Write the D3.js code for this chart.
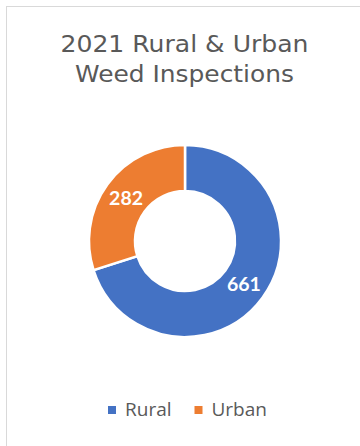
<!DOCTYPE html>
<html><head><meta charset="utf-8">
<script src="https://cdn.jsdelivr.net/npm/d3@7"></script>
<style>html,body{margin:0;padding:0;background:#fff;}svg{display:block;}</style>
</head><body>
<svg id="chart" width="360" height="446"></svg>
<script>
const titleLines = ["2021 Rural & Urban", "Weed Inspections"];
const categories = ["Rural", "Urban"];
const values = [661, 282];
const colors = ["#4472C4", "#ED7D31"];

const svg = d3.select("#chart");
svg.append("rect").attr("x", 6.5).attr("y", 6.5).attr("width", 420).attr("height", 520)
  .attr("fill", "#fff").attr("stroke", "#d9d9d9").attr("stroke-width", 1);

// Title
const titleWidths = [248, 219];
svg.append("g").selectAll("text").data(titleLines).join("text")
  .attr("x", 184.5).attr("y", (d, i) => 51.5 + i * 30)
  .attr("text-anchor", "middle")
  .attr("font-family", "DejaVu Sans, sans-serif")
  .attr("font-size", 23).attr("fill", "#595959")
  .attr("textLength", (d, i) => titleWidths[i]).attr("lengthAdjust", "spacingAndGlyphs")
  .text(d => d);

// Donut
const cx = 185, cy = 241, rOuter = 96, rInner = 50;
const pie = d3.pie().sort(null).startAngle(0).endAngle(2 * Math.PI);
const arcs = pie(values);
const arc = d3.arc().innerRadius(rInner).outerRadius(rOuter);
const labelArc = d3.arc().innerRadius((rInner + rOuter) / 2).outerRadius((rInner + rOuter) / 2);
const g = svg.append("g").attr("transform", `translate(${cx},${cy})`);
g.selectAll("path").data(arcs).join("path")
  .attr("d", arc).attr("fill", (d, i) => colors[i])
  .attr("stroke", "#fff").attr("stroke-width", 2.5).attr("stroke-linejoin", "miter");
g.selectAll("text").data(arcs).join("text")
  .attr("transform", d => `translate(${labelArc.centroid(d)})`)
  .attr("text-anchor", "middle").attr("dy", "0.36em")
  .attr("font-family", "Lato, Carlito, sans-serif").attr("font-weight", "bold")
  .attr("font-size", 19.5).attr("fill", "#fff")
  .text(d => d.data);

// Legend
const leg = svg.append("g");
let x = 108;
categories.forEach((c, i) => {
  leg.append("rect").attr("x", x).attr("y", 406).attr("width", 8).attr("height", 8).attr("fill", colors[i]);
  const t = leg.append("text").attr("x", x + 17).attr("y", 415.5)
    .attr("font-family", "Open Sans, sans-serif").attr("font-size", 19)
    .attr("fill", "#595959").text(c);
  x += 17 + t.node().getComputedTextLength() + 23;
});
</script>
</body></html>
